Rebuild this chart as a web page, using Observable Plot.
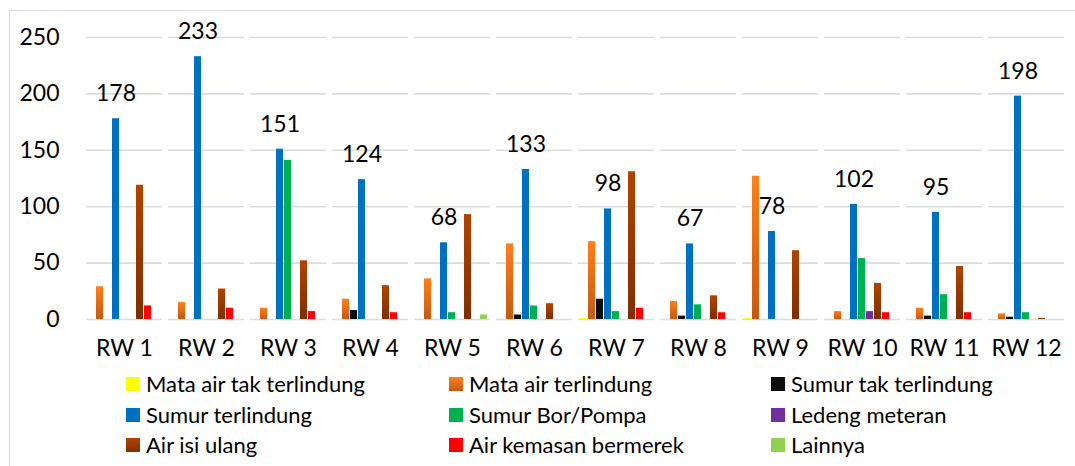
<!DOCTYPE html>
<html>
<head>
<meta charset="utf-8">
<script src="https://cdn.jsdelivr.net/npm/d3@7"></script>
<script src="https://cdn.jsdelivr.net/npm/@observablehq/plot@0.6"></script>
<style>
  html, body { margin: 0; padding: 0; background: #fff; }
  #wrap { position: relative; width: 1075px; height: 466px; overflow: hidden; font-family: Lato, "Open Sans", sans-serif; }
  #frame { position: absolute; left: 9px; top: 10px; width: 1100px; height: 500px; border: 1px solid #d9dde2; pointer-events: none; }
  #chart { position: absolute; left: 0; top: 0; }
  #legend { position: absolute; left: 0; top: 365px; width: 1075px; height: 101px; }
  .li { position: absolute; display: flex; align-items: center; font-size: 22px; color: #000; white-space: nowrap; line-height: 1; }
  .sw { width: 14px; height: 14px; margin-right: 6px; flex: none; }
</style>
</head>
<body>
<div id="wrap">
  <div id="frame"></div>
  <div id="chart"></div>
  <div id="legend"></div>
</div>
<script>
// ---- Data ----
const categories = ["RW 1","RW 2","RW 3","RW 4","RW 5","RW 6","RW 7","RW 8","RW 9","RW 10","RW 11","RW 12"];
const seriesNames = [
  "Mata air tak terlindung", "Mata air terlindung", "Sumur tak terlindung",
  "Sumur terlindung", "Sumur Bor/Pompa", "Ledeng meteran",
  "Air isi ulang", "Air kemasan bermerek", "Lainnya"
];
const mataAirTakTerlindung = [0, 0, 0, 0, 0, 0, 1, 0, 1, 0, 0, 0];
const mataAirTerlindung    = [29, 15, 10, 18, 36, 67, 69, 16, 127, 7, 10, 5];
const sumurTakTerlindung   = [0, 0, 0, 8, 0, 4, 18, 3, 0, 0, 3, 2];
const sumurTerlindung      = [178, 233, 151, 124, 68, 133, 98, 67, 78, 102, 95, 198];
const sumurBorPompa        = [0, 0, 141, 0, 6, 12, 7, 13, 0, 54, 22, 6];
const ledengMeteran        = [0, 0, 0, 0, 0, 0, 0, 0, 0, 7, 0, 0];
const airIsiUlang          = [119, 27, 52, 30, 93, 14, 131, 21, 61, 32, 47, 1];
const airKemasanBermerek   = [12, 10, 7, 6, 0, 0, 10, 6, 0, 6, 6, 0];
const lainnya              = [0, 0, 0, 0, 4, 0, 0, 0, 0, 0, 0, 0];
const yTicks = [0, 50, 100, 150, 200, 250];

const seriesValues = [
  mataAirTakTerlindung, mataAirTerlindung, sumurTakTerlindung,
  sumurTerlindung, sumurBorPompa, ledengMeteran,
  airIsiUlang, airKemasanBermerek, lainnya
];
const seriesFills = [
  "#FFFF00", "url(#gOrange)", "#0D0D0D",
  "#0070C0", "#00B050", "#7030A0",
  "url(#gBrown)", "#FF0000", "#92D050"
];
const legendSwatch = [
  "#FFFF00", "linear-gradient(#FF7F1A,#C55A11)", "#0D0D0D",
  "#0070C0", "#00B050", "#7030A0",
  "linear-gradient(#B04400,#7F2F00)", "#FF0000", "#92D050"
];

const data = [];
categories.forEach((c, i) => {
  seriesNames.forEach((s, j) => {
    data.push({rw: c, series: s, value: seriesValues[j][i]});
  });
});
const labelData = data.filter(d => d.series === "Sumur terlindung");

const plot = Plot.plot({
  width: 1075,
  height: 365,
  marginLeft: 79,
  marginRight: 4,
  marginTop: 37,
  marginBottom: 46,
  style: {fontFamily: "Lato, 'Open Sans', sans-serif", fontSize: "23px", background: "none", color: "#000"},
  fx: {domain: categories, paddingInner: 0.07, paddingOuter: 0.035, label: null},
  x: {domain: seriesNames, padding: 0.1, axis: null},
  y: {domain: [0, 250], label: null},
  color: {domain: seriesNames, range: seriesFills},
  marks: [
    Plot.ruleY(yTicks, {stroke: "#d9dde2", strokeWidth: 1.6}),
    Plot.axisY({ticks: yTicks, tickSize: 0, tickPadding: 27, label: null, fill: "#000"}),
    Plot.axisFx({anchor: "bottom", tickSize: 0, tickPadding: 20, label: null, fill: "#000"}),
    Plot.barY(data, {fx: "rw", x: "series", y: "value", fill: "series"}),
    Plot.text(labelData, {fx: "rw", x: "series", y: "value", text: d => String(d.value), dy: -25, fill: "#000", fontSize: 23})
  ]
});

const defs = d3.select(plot).insert("defs", ":first-child");
function grad(id, top, bottom) {
  const g = defs.append("linearGradient").attr("id", id).attr("x1", 0).attr("y1", 0).attr("x2", 0).attr("y2", 1);
  g.append("stop").attr("offset", "0%").attr("stop-color", top);
  g.append("stop").attr("offset", "100%").attr("stop-color", bottom);
}
grad("gOrange", "#FF7F1A", "#C55A11");
grad("gBrown", "#B04400", "#7F2F00");

document.getElementById("chart").appendChild(plot);

// ---- Legend ----
const legend = document.getElementById("legend");
const colX = [126, 449, 771];
const rowY = [19, 50, 80];
seriesNames.forEach((s, i) => {
  const col = i % 3, row = Math.floor(i / 3);
  const item = document.createElement("div");
  item.className = "li";
  item.style.left = colX[col] + "px";
  item.style.top = (rowY[row] - 11) + "px";
  item.style.height = "22px";
  const sw = document.createElement("div");
  sw.className = "sw";
  sw.style.background = legendSwatch[i];
  const tx = document.createElement("span");
  tx.textContent = s;
  item.appendChild(sw);
  item.appendChild(tx);
  legend.appendChild(item);
});
</script>
</body>
</html>
